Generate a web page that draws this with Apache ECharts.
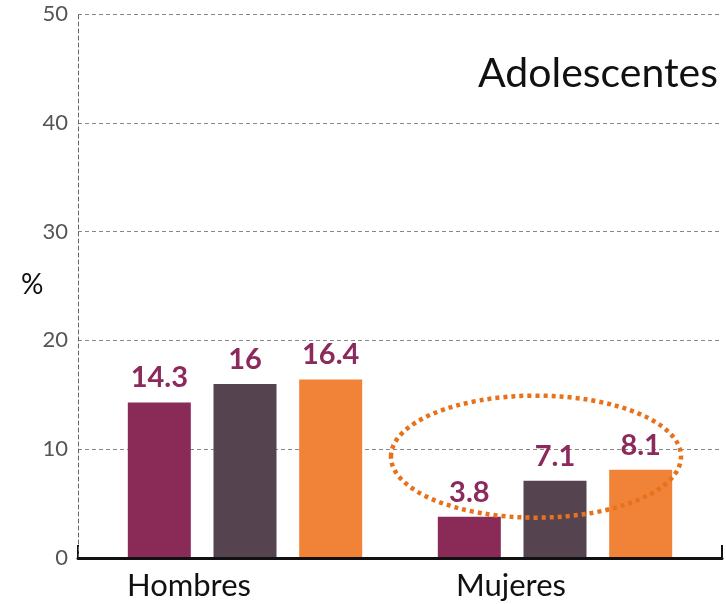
<!DOCTYPE html>
<html>
<head>
<meta charset="utf-8">
<script src="https://cdn.jsdelivr.net/npm/echarts@6/dist/echarts.min.js"></script>
<style>
  html, body { margin: 0; padding: 0; background: #fff; }
  #chart { width: 726px; height: 604px; }
</style>
</head>
<body>
<div id="chart"></div>
<script>
// datos
const categorias = ['Hombres', 'Mujeres'];
const serie1 = [14.3, 3.8];
const serie2 = [16, 7.1];
const serie3 = [16.4, 8.1];
const colores = ['#8a2a57', '#554450', '#f08338'];
const ticksY = [0, 10, 20, 30, 40, 50];

const chart = echarts.init(document.getElementById('chart'));
const fuente = 'Lato, "DejaVu Sans", sans-serif';

const etiqueta = {
  show: true,
  position: 'top',
  distance: 10,
  color: '#8b2a5b',
  fontSize: 29,
  fontWeight: 'bold',
  fontFamily: fuente
};

function barra(nombre, datos, color) {
  return {
    name: nombre,
    type: 'bar',
    xAxisIndex: 1,
    yAxisIndex: 1,
    data: datos,
    barWidth: 63,
    barGap: '36%',
    itemStyle: { color: color },
    label: etiqueta
  };
}

const yMin = ticksY[0];
const yMax = ticksY[ticksY.length - 1];

const option = {
  backgroundColor: '#fff',
  animation: false,
  title: [
    {
      text: 'Adolescentes',
      right: 3, top: 48,
      textStyle: { fontSize: 41, fontWeight: 'normal', color: '#111', fontFamily: fuente }
    },
    {
      text: '%',
      left: 16, top: 266,
      textStyle: { fontSize: 28, fontWeight: 'normal', color: '#111', fontFamily: fuente }
    }
  ],
  grid: [
    { left: 78, right: 4, top: 14, bottom: 46 },
    { left: 90, right: 16, top: 14, bottom: 46 }
  ],
  xAxis: [
    {
      type: 'category',
      gridIndex: 0,
      data: categorias,
      axisLine: { show: true, lineStyle: { color: '#111', width: 3 } },
      axisTick: { show: false },
      axisLabel: {
        color: '#111', fontSize: 31, fontFamily: fuente,
        margin: 12, padding: [0, 100, 0, 0]
      },
      z: 10
    },
    {
      type: 'category',
      gridIndex: 1,
      data: categorias,
      show: false
    }
  ],
  yAxis: [
    {
      type: 'value',
      gridIndex: 0,
      min: yMin,
      max: yMax,
      interval: 10,
      axisLine: { show: true, lineStyle: { color: '#666', type: [4, 3], width: 1 } },
      axisTick: { show: false },
      axisLabel: { color: '#555', fontSize: 22, fontFamily: fuente, margin: 10 },
      splitLine: { lineStyle: { color: '#888', type: [4, 3], width: 1 } }
    },
    {
      type: 'value',
      gridIndex: 1,
      min: yMin,
      max: yMax,
      interval: 10,
      show: false,
      splitLine: { show: false }
    }
  ],
  series: [
    barra('s1', serie1, colores[0]),
    barra('s2', serie2, colores[1]),
    barra('s3', serie3, colores[2])
  ]
};
chart.setOption(option);

// marcas en los extremos del eje y elipse punteada
const base = chart.convertToPixel({ gridIndex: 0 }, [0, 0]);
const centro = chart.convertToPixel({ gridIndex: 1 }, [1, 9.5]);
chart.setOption({
  graphic: [
    { type: 'line', shape: { x1: 78, y1: base[1] - 13, x2: 78, y2: base[1] }, style: { stroke: '#111', lineWidth: 2 } },
    { type: 'line', shape: { x1: 722, y1: base[1] - 13, x2: 722, y2: base[1] }, style: { stroke: '#111', lineWidth: 2 } },
    {
      type: 'ellipse',
      shape: { cx: centro[0] - 19, cy: centro[1] + 2, rx: 145, ry: 61 },
      style: { fill: 'none', stroke: '#e8721c', lineWidth: 4.5, lineDash: [4, 4] },
      z: 20
    }
  ]
});
</script>
</body>
</html>
